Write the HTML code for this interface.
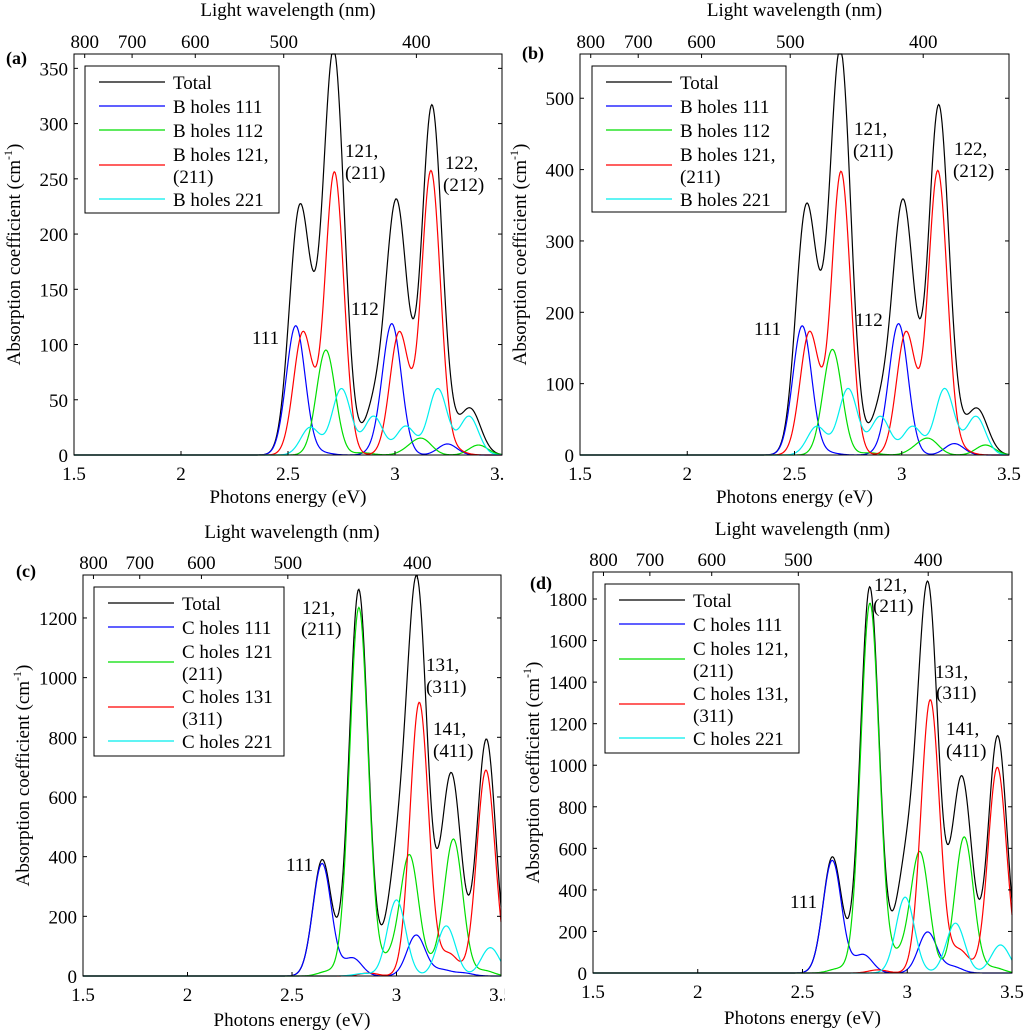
<!DOCTYPE html>
<html><head><meta charset="utf-8">
<style>
html,body{margin:0;padding:0;background:#fff;}
svg{display:block;font-family:"Liberation Serif",serif;}
</style></head>
<body>
<svg id="fig" width="1024" height="1032" viewBox="0 0 1024 1032" xmlns="http://www.w3.org/2000/svg">
<defs>
<clipPath id="clipL"><rect x="0" y="0" width="505" height="1032"/></clipPath>
</defs>
</svg>
<script>
// ---- data: Gaussian peak parameters (center eV, height cm^-1) ----
const a_blue_c=[2.536,2.986,2.925,3.245,2.66]; const a_blue_h=[117,117,5,10,2];
const a_green_c=[2.677,3.13,3.07,3.39,2.85]; const a_green_h=[95,13,5,9,2];
const a_red_c=[2.57,2.717,3.02,3.168,3.28]; const a_red_h=[111,256,111,257,4];
const a_cyan_c=[2.604,2.75,2.9,3.05,3.2,3.346]; const a_cyan_h=[25,60,35,26,60,35];

const b_blue_c=[2.536,2.986,2.925,3.245,2.66]; const b_blue_h=[181,181,8,16,3];
const b_green_c=[2.677,3.13,3.07,3.39,2.85]; const b_green_h=[148,20,8,14,3];
const b_red_c=[2.57,2.717,3.02,3.168,3.28]; const b_red_h=[172,397,172,398,6];
const b_cyan_c=[2.604,2.75,2.9,3.05,3.2,3.346]; const b_cyan_h=[40,93,54,40,93,54];

const c_blue_c=[2.644,2.79,3.094,3.217,3.32]; const c_blue_h=[377,60,137,20,10];
const c_green_c=[2.82,3.062,3.273,2.966,2.67,3.42,3.185]; const c_green_h=[1235,402,455,50,15,18,30];
const c_red_c=[3.109,3.428,3.252,2.866]; const c_red_h=[917,690,73,10];
const c_cyan_c=[3.0,3.238,3.449,2.84]; const c_cyan_h=[255,168,95,8];

const d_blue_c=[2.642,2.79,3.097,3.217]; const d_blue_h=[542,88,197,30];
const d_green_c=[2.822,3.06,3.272,2.96,2.67,3.415]; const d_green_h=[1780,580,655,70,20,25];
const d_red_c=[3.11,3.43,3.25,2.86]; const d_red_h=[1315,990,108,15];
const d_cyan_c=[2.99,3.23,3.445]; const d_cyan_h=[365,240,135];

const xTicks=[1.5,2,2.5,3,3.5];
const wlTicks=[800,700,600,500,400];
const yTicksA=[0,50,100,150,200,250,300,350];
const yTicksB=[0,100,200,300,400,500];
const yTicksC=[0,200,400,600,800,1000,1200];
const yTicksD=[0,200,400,600,800,1000,1200,1400,1600,1800];

const NS="http://www.w3.org/2000/svg";
const svg=document.getElementById('fig');
function mk(tag,attrs,parent,text){const e=document.createElementNS(NS,tag);for(const k in attrs)e.setAttribute(k,attrs[k]);if(text!==undefined)e.textContent=text;(parent||svg).appendChild(e);return e;}

const FS=19;
const panels=[
 {id:'a',L:74,R:502,T:54,B:455,ymax:363,yt:yTicksA,sig:0.044,clip:true,
  series:[[a_blue_c,a_blue_h],[a_green_c,a_green_h],[a_red_c,a_red_h],[a_cyan_c,a_cyan_h]],
  lbl:['Total','B holes 111','B holes 112',['B holes 121,','(211)'],'B holes 221'],
  leg:{x:85,y:66,w:194,h:147},tag:{x:6,y:64},topTitle:16,xTitle:503,
  ann:[['121,',345,157],['(211)',345,179],['122,',445,169],['(212)',443,191],['111',252,344],['112',351,315]]},
 {id:'b',L:580,R:1009,T:54,B:455,ymax:562,yt:yTicksB,sig:0.044,clip:false,
  series:[[b_blue_c,b_blue_h],[b_green_c,b_green_h],[b_red_c,b_red_h],[b_cyan_c,b_cyan_h]],
  lbl:['Total','B holes 111','B holes 112',['B holes 121,','(211)'],'B holes 221'],
  leg:{x:592,y:66,w:194,h:146},tag:{x:522,y:59},topTitle:16,xTitle:503,
  ann:[['121,',854,135],['(211)',853,157],['122,',954,155],['(212)',953,177],['111',754,335],['112',855,326]]},
 {id:'c',L:83,R:501,T:575,B:976,ymax:1344,yt:yTicksC,sig:0.044,clip:true,
  series:[[c_blue_c,c_blue_h],[c_green_c,c_green_h],[c_red_c,c_red_h],[c_cyan_c,c_cyan_h]],
  lbl:['Total','C holes 111',['C holes 121','(211)'],['C holes 131','(311)'],'C holes 221'],
  leg:{x:94,y:587,w:190,h:169},tag:{x:16,y:577},topTitle:538,xTitle:1026,
  ann:[['121,',302,614],['(211)',301,635],['131,',426,671],['(311)',426,693],['141,',433,735],['(411)',433,757],['111',286,871]]},
 {id:'d',L:593,R:1012,T:572,B:973,ymax:1930,yt:yTicksD,sig:0.044,clip:false,
  series:[[d_blue_c,d_blue_h],[d_green_c,d_green_h],[d_red_c,d_red_h],[d_cyan_c,d_cyan_h]],
  lbl:['Total','C holes 111',['C holes 121,','(211)'],['C holes 131,','(311)'],'C holes 221'],
  leg:{x:605,y:584,w:194,h:169},tag:{x:530,y:589},topTitle:535,xTitle:1024,
  ann:[['121,',874,591],['(211)',873,612],['131,',935,678],['(311)',936,699],['141,',946,735],['(411)',946,757],['111',790,908]]}
];
const colors=['#0000ff','#00dd00','#ff0000','#00eeee'];
const names=['blue','green','red','cyan'];

function gauss(cs,hs,sig,e){let s=0;for(let i=0;i<cs.length;i++){const d=e-cs[i];s+=hs[i]*Math.exp(-d*d/(2*sig*sig));}return s;}

panels.forEach(p=>{
 const g=mk('g',{},svg);
 
 
 if(p.clip) g.setAttribute('clip-path','url(#clipL)');
 const xs=e=>p.L+(e-1.5)/2*(p.R-p.L);
 const ys=v=>p.B-v/p.ymax*(p.B-p.T);
 const pts=[];for(let e=1.5;e<=3.5001;e+=0.004)pts.push(e);
 const curves=p.series.map(s=>pts.map(e=>gauss(s[0],s[1],p.sig,e)));
 const total=pts.map((e,i)=>curves.reduce((a,c)=>a+c[i],0));
 const cg=mk('g',{},g);
 const path=(vals,col,nm)=>{const d=vals.map((v,i)=>(i?'L':'M')+xs(pts[i]).toFixed(2)+','+Math.max(p.T,ys(v)).toFixed(2)).join('');
  const el=mk('path',{d:d,fill:'none',stroke:col,'stroke-width':1.2},cg);
  
  };
 path(total,'#000','total-curve');
 curves.forEach((c,i)=>path(c,colors[i],names[i]+'-curve'));
 const box=mk('rect',{x:p.L,y:p.T,width:p.R-p.L,height:p.B-p.T,fill:'none',stroke:'#000','stroke-width':1},g);
 
 
 xTicks.forEach(t=>{const x=xs(t);
  mk('line',{x1:x,x2:x,y1:p.B,y2:p.B-4,stroke:'#000'},g);
  const tl=mk('text',{x:x,y:p.B+25,'font-size':FS,'text-anchor':'middle'},g,String(t));
  
  });
 wlTicks.forEach(w=>{const x=xs(1240/w);
  mk('line',{x1:x,x2:x,y1:p.T,y2:p.T+4,stroke:'#000'},g);
  const tl=mk('text',{x:x,y:p.T-6,'font-size':FS,'text-anchor':'middle'},g,String(w));
  
  });
 p.yt.forEach(t=>{const y=ys(t);
  mk('line',{x1:p.L,x2:p.L+4,y1:y,y2:y,stroke:'#000'},g);
  mk('line',{x1:p.R,x2:p.R-4,y1:y,y2:y,stroke:'#000'},g);
  const tl=mk('text',{x:p.L-6,y:y+7,'font-size':FS,'text-anchor':'end'},g,String(t));
  
  });
 const cx=(p.L+p.R)/2;
 const tt=mk('text',{x:cx,y:p.topTitle,'font-size':FS,'text-anchor':'middle'},g,'Light wavelength (nm)');
 
 
 const xt=mk('text',{x:cx,y:p.xTitle,'font-size':FS,'text-anchor':'middle'},g,'Photons energy (eV)');
 
 
 const yx=p.L-54, yy=(p.T+p.B)/2;
 const yt=mk('text',{x:yx,y:yy,'font-size':FS,'text-anchor':'middle',transform:`rotate(-90 ${yx} ${yy})`},g);
 
 
 mk('tspan',{},yt,'Absorption coefficient (cm');
 mk('tspan',{'font-size':12,dy:-8},yt,'-1');
 mk('tspan',{dy:8},yt,')');
 const tg=mk('text',{x:p.tag.x,y:p.tag.y,'font-size':18,'font-weight':'bold'},g,'('+p.id+')');
 
 
 const lg=mk('g',{},g);
 
 
 mk('rect',{x:p.leg.x,y:p.leg.y,width:p.leg.w,height:p.leg.h,fill:'#fff',stroke:'#000','stroke-width':1},lg);
 let ry=p.leg.y+16;
 const lcols=['#000'].concat(colors);
 p.lbl.forEach((l,i)=>{
  const two=Array.isArray(l);
  const ly=two?ry+11:ry;
  const ln=mk('line',{x1:p.leg.x+14,x2:p.leg.x+80,y1:ly,y2:ly,stroke:lcols[i],'stroke-width':1.2},lg);
  
  
  const lines=two?l:[l];
  lines.forEach((s,j)=>{const te=mk('text',{x:p.leg.x+88,y:ry+7+j*22,'font-size':FS},lg,s);
   
   });
  ry+=two?45:24;
 });
 p.ann.forEach(a=>{const te=mk('text',{x:a[1],y:a[2],'font-size':FS},g,a[0]);
  
  });
});
</script>
</body></html>
